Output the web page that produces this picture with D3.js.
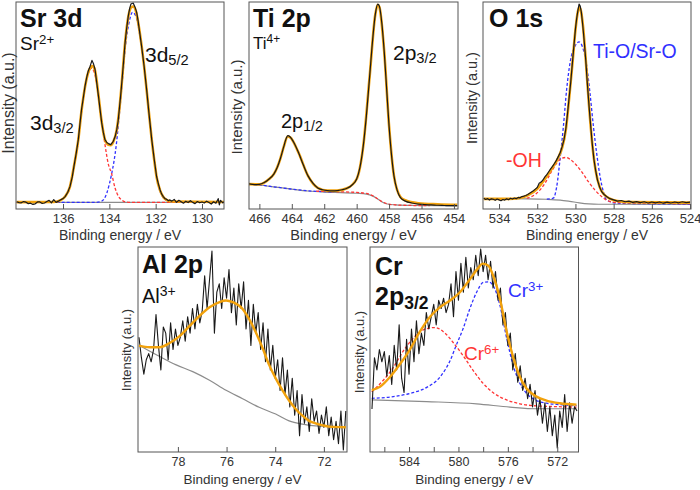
<!DOCTYPE html>
<html><head><meta charset="utf-8">
<script src="https://cdn.jsdelivr.net/npm/d3@7"></script>
<style>body{margin:0;background:#fff}svg{display:block}</style>
</head><body><svg id="c" width="700" height="490"></svg>
<script>
// ---------- DATA (binding energy eV, intensity as % of panel height) ----------
const srTicks = [136,134,132,130];
const srData = [[138.0,3.5],[137.9,3.1],[137.8,3.0],[137.7,3.6],[137.6,3.3],[137.5,2.6],[137.4,2.8],[137.3,2.2],[137.2,2.5],[137.1,3.4],[137.0,3.4],[136.9,2.7],[136.8,2.9],[136.7,3.6],[136.6,4.2],[136.5,3.0],[136.4,4.5],[136.3,3.2],[136.2,3.8],[136.1,4.5],[136.0,5.0],[135.91,6.0],[135.8,8.0],[135.7,10.8],[135.6,15.5],[135.53,20.5],[135.43,27],[135.34,33.5],[135.27,41],[135.2,48.1],[135.12,54],[135.05,59.4],[134.98,63.5],[134.91,66.7],[134.83,69],[134.75,71.8],[134.68,70],[134.62,67.5],[134.55,61.5],[134.47,54.5],[134.4,48],[134.33,41.6],[134.26,37],[134.19,33.5],[134.1,32],[134.04,31.6],[133.94,31.1],[133.83,32.7],[133.75,35],[133.68,38.3],[133.62,42.5],[133.57,48.1],[133.51,55],[133.45,62.6],[133.38,72],[133.32,80.4],[133.25,87.5],[133.18,93.4],[133.12,97],[133.07,99.0],[132.97,99.5],[132.89,97.5],[132.82,95.0],[132.76,91],[132.71,86.9],[132.61,78.8],[132.5,69.1],[132.39,57.8],[132.29,46.4],[132.17,33.5],[132.06,23.8],[131.96,15.7],[131.88,12],[131.81,9.2],[131.74,7.2],[131.67,6.0],[131.6,5.0],[131.53,4.7],[131.45,4.0],[131.4,4.4],[131.3,3.8],[131.2,4.6],[131.1,3.2],[131.0,4.2],[130.9,3.5],[130.8,2.8],[130.7,3.7],[130.6,3.1],[130.5,4.0],[130.4,3.2],[130.3,2.6],[130.2,3.6],[130.1,3.0],[130.0,3.4],[129.9,2.9],[129.8,3.8],[129.7,3.1],[129.6,2.4],[129.5,3.5],[129.4,2.8],[129.3,5.0],[129.25,2.0],[129.2,4.2],[129.1,3.0],[129.05,3.4]];
const srFit = [[138.0,3.3],[136.4,3.4],[136.1,4.3],[135.9,6.2],[135.7,10.8],[135.53,20.5],[135.34,33.5],[135.2,47.5],[135.05,59],[134.91,66],[134.8,68.5],[134.72,69],[134.62,67],[134.47,55],[134.33,42],[134.19,33.5],[134.04,31],[133.94,30.8],[133.83,32.5],[133.68,38.3],[133.57,48],[133.45,62.6],[133.32,80.4],[133.18,93],[133.05,97.5],[132.97,97.8],[132.85,95.5],[132.71,87],[132.5,69],[132.29,46.4],[132.17,33.5],[132.06,23.5],[131.96,15.5],[131.81,9],[131.67,5.8],[131.5,4.2],[131.3,3.6],[129.05,3.4]];
const srBase = [[138.0,3.2],[129.05,3.2]];
const srBlue = [[138.0,3.2],[134.6,3.2],[134.4,3.5],[134.25,4.5],[134.1,8],[134.0,12],[133.9,17],[133.8,23],[133.7,31],[133.6,42],[133.5,54],[133.4,67],[133.3,79],[133.15,90],[133.0,95],[132.85,93],[132.7,85],[132.5,69],[132.3,47],[132.15,32],[132.0,19],[131.85,10],[131.7,6],[131.5,4],[131.3,3.3],[129.05,3.2]];
const srRed = [[138.0,3.2],[136.3,3.3],[136.1,4.3],[135.9,6.2],[135.7,10.5],[135.53,20],[135.34,33],[135.2,47],[135.05,58.5],[134.91,65.5],[134.78,68],[134.65,66],[134.5,57],[134.35,44],[134.2,32],[134.05,22],[133.9,17],[133.75,10],[133.6,6],[133.45,4.2],[133.3,3.4],[133.1,3.2],[129.05,3.2]];

const tiTicks = [466,464,462,460,458,456,454];
const tiData = [[466.65,12.1],[466.3,11.8],[466.0,11.9],[465.7,12.8],[465.4,14.5],[465.1,17.0],[464.9,20.0],[464.7,24.5],[464.5,30.0],[464.35,34.0],[464.25,35.4],[464.1,34.8],[463.9,32.5],[463.6,27.5],[463.3,21.5],[463.0,16.0],[462.7,12.5],[462.4,10.2],[462.1,9.3],[461.8,8.9],[461.5,8.8],[461.2,8.9],[460.9,9.3],[460.6,10.0],[460.3,11.5],[460.0,14.5],[459.8,20.0],[459.6,30.0],[459.4,45.0],[459.2,64.0],[459.0,83.0],[458.85,94.0],[458.7,99.0],[458.6,98.0],[458.45,90.0],[458.3,76.0],[458.15,58.0],[458.0,40.0],[457.85,26.0],[457.7,16.0],[457.5,9.0],[457.3,5.5],[457.0,3.8],[456.6,2.9],[456.2,2.4],[455.8,2.1],[455.4,2.0],[455.0,1.8],[454.6,1.7],[454.2,1.6],[453.8,1.6]];
const tiFit = [[466.65,12.0],[466.0,11.9],[465.4,14.5],[465.1,17.0],[464.7,24.5],[464.5,30.0],[464.25,35.0],[464.1,34.6],[463.6,27.5],[463.0,16.0],[462.4,10.2],[461.8,8.9],[461.2,8.9],[460.6,10.0],[460.0,14.5],[459.6,30.0],[459.2,64.0],[458.85,94.0],[458.7,98.6],[458.6,97.6],[458.3,76.0],[458.0,40.0],[457.7,16.0],[457.3,5.8],[457.0,4.2],[456.2,2.8],[455.0,2.3],[453.8,2.0]];
const tiBase = [[466.65,12.0],[466.0,11.6],[465.0,10.6],[464.0,9.6],[463.0,8.7],[462.0,8.2],[461.0,7.9],[460.0,7.6],[459.4,7.2],[459.0,6.2],[458.7,4.8],[458.4,3.3],[458.1,2.4],[457.6,2.0],[456.5,1.7],[453.8,1.5]];
const tiBlue = [[466.65,12.0],[466.0,11.6],[465.0,10.6],[464.0,9.6],[463.0,8.8],[462.0,8.4],[461.5,8.3]];
const tiRed = [[462.5,8.6],[462.0,8.5],[461.0,8.3],[460.0,8.0],[459.4,7.5],[459.0,6.4],[458.7,4.9],[458.4,3.4],[458.1,2.5],[457.6,2.0],[456.5,1.7],[455.5,1.6]];

const oTicks = [534,532,530,528,526,524];
const oData = [[534.8,5.2],[534.7,4.6],[534.6,5.0],[534.5,4.3],[534.4,4.9],[534.3,4.7],[534.2,4.2],[534.1,4.8],[534.0,4.4],[533.9,4.0],[533.8,4.6],[533.7,4.3],[533.6,4.9],[533.5,4.5],[533.4,5.2],[533.3,4.8],[533.2,5.3],[533.1,5.0],[533.0,5.6],[532.9,5.4],[532.8,6.0],[532.7,6.2],[532.6,6.5],[532.5,7.0],[532.4,7.6],[532.3,8.2],[532.2,8.8],[532.1,9.6],[532.0,10.4],[531.9,12.4],[531.8,13.0],[531.7,14.0],[531.6,15.5],[531.5,16.6],[531.4,18.0],[531.3,19.4],[531.2,20.6],[531.1,22.0],[531.0,23.5],[530.9,25.3],[530.8,27.2],[530.7,30.0],[530.6,33.5],[530.5,39.0],[530.43,44.8],[530.34,53],[530.25,61.0],[530.16,70.5],[530.08,78.8],[530.0,87],[529.94,91.7],[529.87,96],[529.81,99.0],[529.75,98],[529.69,95.0],[529.62,89],[529.55,82.0],[529.46,72],[529.38,61.0],[529.29,50],[529.2,40.0],[529.12,31.5],[529.03,23.8],[528.94,18.5],[528.85,14.1],[528.74,10.8],[528.63,8.4],[528.5,7.0],[528.37,6.0],[528.2,5.0],[528.0,4.4],[527.8,3.8],[527.6,4.1],[527.4,3.5],[527.2,3.8],[527.0,3.2],[526.8,3.6],[526.6,3.1],[526.4,3.5],[526.2,2.9],[526.0,3.4],[525.8,3.0],[525.6,3.4],[525.4,2.8],[525.2,3.3],[525.0,2.9],[524.8,3.4],[524.6,3.0],[524.4,3.5],[524.2,3.1],[524.0,3.3]];
const oFit = [[534.8,4.9],[533.5,4.9],[533.0,5.2],[532.5,6.6],[532.0,9.8],[531.6,14.5],[531.2,20],[530.9,24.8],[530.7,29.5],[530.5,38.5],[530.34,52.5],[530.16,70],[530.0,86.5],[529.87,95.5],[529.8,97.5],[529.72,96],[529.6,88],[529.46,72],[529.29,50],[529.12,31.5],[528.94,18.5],[528.74,10.8],[528.5,7.0],[528.2,5.0],[527.8,3.9],[527.0,3.3],[524.0,3.1]];
const oBase = [[534.8,5.0],[532.5,4.9],[531.5,4.7],[530.8,4.3],[530.3,3.7],[529.8,3.0],[529.3,2.5],[528.8,2.3],[524.0,2.2]];
const oBlue = [[531.5,4.8],[531.16,5.2],[530.98,10.8],[530.81,23.8],[530.63,40.0],[530.46,57.8],[530.28,70.7],[530.02,78.8],[529.81,80.7],[529.62,78.0],[529.41,69.1],[529.24,56.1],[529.06,40.0],[528.89,27.0],[528.71,15.7],[528.54,8.4],[528.37,4.4],[527.8,2.8],[524.0,2.4]];
const oRed = [[532.55,5.2],[532.03,7.6],[531.59,12.5],[531.25,18.1],[530.98,22.2],[530.72,24.4],[530.5,24.9],[530.25,23.8],[529.97,21.4],[529.68,18.1],[529.33,13.3],[528.98,9.2],[528.63,6.0],[528.28,3.9],[527.84,3.1],[524.0,2.6]];

const alTicks = [78,76,74,72];
const alData = [[79.6,56],[79.5,46],[79.4,38],[79.3,45],[79.2,48],[79.1,44],[79.0,50],[78.9,67],[78.8,52],[78.7,40],[78.6,61],[78.5,58],[78.4,45],[78.3,63],[78.2,50],[78.1,60],[78.0,52],[77.9,56],[77.8,64],[77.7,54],[77.6,66],[77.5,58],[77.4,70],[77.3,60],[77.2,72],[77.1,63],[77.0,69],[76.9,86],[76.8,70],[76.7,84],[76.6,98],[76.5,58],[76.4,78],[76.3,82],[76.2,70],[76.1,85],[76.0,75],[75.9,89],[75.8,68],[75.7,80],[75.6,62],[75.5,82],[75.4,70],[75.3,83],[75.2,60],[75.1,74],[75.0,52],[74.9,72],[74.8,58],[74.7,68],[74.6,50],[74.5,63],[74.4,44],[74.3,60],[74.2,40],[74.1,52],[74.0,36],[73.9,45],[73.8,30],[73.7,46],[73.6,28],[73.5,40],[73.4,22],[73.3,36],[73.2,18],[73.1,30],[73.0,8],[72.9,28],[72.8,14],[72.7,22],[72.6,10],[72.5,26],[72.4,15],[72.3,20],[72.2,9],[72.1,18],[72.0,12],[71.9,22],[71.8,8],[71.7,17],[71.6,6],[71.5,15],[71.4,4],[71.3,20],[71.2,1],[71.1,20]];
const alFit = [[79.6,51.9],[79.16,51.1],[78.75,51.1],[78.34,53.2],[77.93,56.5],[77.52,61.5],[77.11,66.4],[76.7,70.6],[76.29,73.1],[76.02,73.9],[75.75,73.1],[75.34,69.8],[75.07,64.8],[74.79,58.2],[74.52,50.7],[74.25,42.5],[73.98,35.9],[73.7,30.1],[73.43,25.1],[73.16,21.0],[72.88,17.7],[72.61,15.2],[72.34,14.0],[72.07,13.1],[71.79,12.4],[71.1,12.1]];
const alBase = [[79.6,52.1],[78.75,46.6],[78.07,42.5],[77.39,39.2],[76.7,35.0],[76.02,30.1],[75.34,26.0],[74.66,21.8],[73.98,18.5],[73.43,15.2],[72.88,13.6],[72.34,12.7],[71.1,12.2]];

const crTicks = [586,584,582,580,578,576,574,572];
const crLabels = [584,580,576,572];
const crData = [[587.0,21],[586.8,46],[586.6,40],[586.4,50],[586.2,44],[586.0,49],[585.8,37],[585.6,47],[585.4,33],[585.2,52],[585.0,40],[584.8,62],[584.6,36],[584.4,29],[584.2,55],[584.0,38],[583.8,60],[583.6,44],[583.4,64],[583.2,48],[583.0,58],[582.8,52],[582.6,68],[582.4,60],[582.2,66],[582.0,72],[581.8,62],[581.6,74],[581.4,70],[581.2,75],[581.0,68],[580.8,72],[580.6,82],[580.4,66],[580.2,88],[580.0,74],[579.8,92],[579.6,78],[579.4,95],[579.2,80],[579.0,90],[578.8,84],[578.6,96],[578.4,86],[578.2,99],[578.0,88],[577.8,96],[577.6,84],[577.4,93],[577.2,80],[577.0,88],[576.8,74],[576.6,80],[576.4,62],[576.2,68],[576.0,52],[575.8,58],[575.6,40],[575.4,48],[575.2,34],[575.0,42],[574.8,30],[574.6,36],[574.4,26],[574.2,33],[574.0,22],[573.8,30],[573.6,18],[573.4,26],[573.2,14],[573.0,24],[572.8,10],[572.6,22],[572.4,8],[572.2,18],[572.0,2],[571.8,20],[571.6,12],[571.4,28],[571.2,10],[571.0,24],[570.8,14],[570.6,22],[570.4,20]];
const crFit = [[587.02,30.2],[586.35,31.8],[585.54,36.6],[584.73,42.9],[583.92,50.1],[583.11,58.8],[582.3,66.0],[581.49,70.7],[580.68,73.9],[579.88,77.9],[579.07,84.3],[578.39,89.8],[578.04,91.9],[577.58,90.9],[577.18,85.9],[576.64,74.7],[576.1,58.8],[575.56,46.1],[575.02,36.6],[574.49,31.0],[573.68,27.0],[572.87,25.1],[571.79,23.8],[570.44,23.1]];
const crBase = [[587.02,25.4],[582.57,24.6],[578.53,23.5],[575.83,21.9],[573.68,21.1],[570.44,21.1]];
const crBlue = [[587.02,26.2],[585.27,27.0],[583.92,28.6],[582.57,31.5],[581.49,36.6],[580.68,44.5],[580.15,52.5],[579.61,60.4],[579.07,70.0],[578.53,77.9],[577.99,82.7],[577.58,83.0],[577.18,81.1],[576.64,71.5],[576.1,55.6],[575.56,42.1],[575.02,33.4],[574.49,28.6],[573.68,25.1],[572.87,23.8],[571.79,23.1],[570.44,22.6]];
const crRed = [[587.02,29.4],[586.08,35.0],[585.27,41.3],[584.46,49.3],[583.65,55.6],[582.84,59.6],[581.9,60.7],[581.09,58.0],[580.41,53.3],[579.61,46.9],[578.8,39.7],[577.99,33.4],[577.18,28.9],[576.1,25.4],[575.02,23.5],[573.95,22.6],[572.87,22.3],[570.44,21.9]];

// ---------- DRAWING ----------
const FONT = '"Liberation Sans", Arial, Helvetica, sans-serif';
const svg = d3.select('#c');
const C = {black:'#1a1a1a', orange:'#f2a20c', gray:'#8c8c8c', blue:'#3030ff', red:'#ff3535'};

function rich(x, y, size, color, weight, parts) {
  const t = svg.append('text').attr('x', x).attr('y', y).attr('font-size', size)
    .attr('fill', color).attr('font-weight', weight).attr('font-family', FONT);
  let shift = 0;
  parts.forEach(([s, k]) => {
    const target = k === 'sup' ? -0.34 * size : k === 'sub' ? 0.14 * size : 0;
    const sp = t.append('tspan').text(s).attr('dy', target - shift);
    if (k) sp.attr('font-size', size * 0.7);
    shift = target;
  });
  return t;
}

let clipId = 0;
function panel(p) {
  const x = d3.scaleLinear().domain(p.domain).range([p.x0, p.x1]);
  const y = d3.scaleLinear().domain([0, 100]).range([p.y1, p.y0]);
  const id = 'clip' + (clipId++);
  svg.append('clipPath').attr('id', id).append('rect')
    .attr('x', p.x0).attr('y', p.y0).attr('width', p.x1 - p.x0).attr('height', p.y1 - p.y0);
  const g = svg.append('g').attr('clip-path', `url(#${id})`);
  const smooth = d3.line().x(d => x(d[0])).y(d => y(d[1])).curve(d3.curveMonotoneX);
  const lin = d3.line().x(d => x(d[0])).y(d => y(d[1]));
  p.series.forEach(s => {
    g.append('path').datum(s.data).attr('d', s.noisy ? lin : smooth)
      .attr('fill', 'none').attr('stroke', s.color).attr('stroke-width', s.w)
      .attr('stroke-dasharray', s.dash || null).attr('stroke-linejoin', 'round');
  });
  svg.append('rect').attr('x', p.x0).attr('y', p.y0).attr('width', p.x1 - p.x0).attr('height', p.y1 - p.y0)
    .attr('fill', 'none').attr('stroke', '#555').attr('stroke-width', 1);
  const labels = p.labels || p.ticks;
  const ax = d3.axisBottom(x).tickValues(p.ticks).tickSize(-5).tickPadding(5)
    .tickFormat(d => labels.includes(d) ? d : '');
  const ga = svg.append('g').attr('transform', `translate(0,${p.y1})`).call(ax)
    .attr('font-family', FONT).attr('font-size', p.tickSize);
  ga.select('.domain').remove();
  ga.selectAll('line').attr('stroke', '#555');
  ga.selectAll('text').attr('fill', '#333');
  svg.append('text').attr('x', (p.x0 + p.x1) / 2).attr('y', p.y1 + p.titleDy)
    .attr('text-anchor', 'middle').attr('font-family', FONT).attr('font-size', p.titleSize)
    .attr('fill', '#333').text('Binding energy / eV');
  svg.append('text').attr('transform', `translate(${p.yLabX},${p.yLabY}) rotate(-90)`)
    .attr('text-anchor', 'middle').attr('font-family', FONT).attr('font-size', p.yLabSize)
    .attr('fill', '#333').text('Intensity (a.u.)');
}

const S = (data, color, w, dash, noisy) => ({data, color, w, dash, noisy});
const D = '3,2';

panel({x0:16, x1:224, y0:2, y1:209, domain:[138.03,129.05], ticks:srTicks, tickSize:13, titleDy:31, titleSize:14,
  yLabX:14, yLabY:103, yLabSize:16,
  series:[S(srBase,C.gray,1.2), S(srBlue,C.blue,1.3,D), S(srRed,C.red,1.3,D), S(srFit,C.orange,2.6), S(srData,C.black,1.2,null,true)]});
panel({x0:249, x1:458, y0:2, y1:209, domain:[466.64,453.75], ticks:tiTicks, tickSize:13, titleDy:31, titleSize:14.5,
  yLabX:242, yLabY:107, yLabSize:15,
  series:[S(tiBase,C.gray,1.2), S(tiBlue,C.blue,1.3,D), S(tiRed,C.red,1.3,D), S(tiFit,C.orange,2.6), S(tiData,C.black,1.2)]});
panel({x0:483, x1:691, y0:2, y1:209, domain:[534.84,523.95], ticks:oTicks, tickSize:13, titleDy:31, titleSize:14,
  yLabX:477, yLabY:98, yLabSize:14.5,
  series:[S(oBase,C.gray,1.2), S(oBlue,C.blue,1.3,D), S(oRed,C.red,1.3,D), S(oFit,C.orange,2.6), S(oData,C.black,1.2,null,true)]});
panel({x0:138, x1:347, y0:247, y1:452, domain:[79.64,71.05], ticks:alTicks, tickSize:12.5, titleDy:32, titleSize:13.5,
  yLabX:131, yLabY:350, yLabSize:13,
  series:[S(alBase,C.gray,1.2), S(alData,C.black,1.1,null,true), S(alFit,C.orange,2.4)]});
panel({x0:370, x1:578.5, y0:247, y1:452, domain:[587.16,570.28], ticks:crTicks, labels:crLabels, tickSize:12.5, titleDy:32, titleSize:13.5,
  yLabX:364, yLabY:352, yLabSize:13,
  series:[S(crBase,C.gray,1.2), S(crBlue,C.blue,1.3,D), S(crRed,C.red,1.3,D), S(crData,C.black,1.1,null,true), S(crFit,C.orange,2.4)]});

// ---------- annotations ----------
const K = '#111';
rich(20, 27, 25, K, 'bold', [['Sr 3d']]);
rich(20, 50, 19, K, 'normal', [['Sr'], ['2+','sup']]);
rich(145, 62, 21, K, 'normal', [['3d'], ['5/2','sub']]);
rich(30, 130, 21, K, 'normal', [['3d'], ['3/2','sub']]);

rich(253, 27, 25, K, 'bold', [['Ti 2p']]);
rich(253, 49, 17, K, 'normal', [['Ti'], ['4+','sup']]);
rich(393, 60, 21, K, 'normal', [['2p'], ['3/2','sub']]);
rich(281, 128, 20, K, 'normal', [['2p'], ['1/2','sub']]);

rich(489, 27, 25, K, 'bold', [['O 1s']]);
rich(593, 58, 19.5, C.blue, 'normal', [['Ti-O/Sr-O']]);
rich(506, 167, 19.5, C.red, 'normal', [['-OH']]);

rich(142, 273, 25, K, 'bold', [['Al 2p']]);
rich(142, 303, 20, K, 'normal', [['Al'], ['3+','sup']]);

rich(375, 275, 25, K, 'bold', [['Cr']]);
rich(375, 305, 25, K, 'bold', [['2p'], ['3/2','sub']]);
rich(508, 297, 19, C.blue, 'normal', [['Cr'], ['3+','sup']]);
rich(464, 360, 19, C.red, 'normal', [['Cr'], ['6+','sup']]);
</script></body></html>
